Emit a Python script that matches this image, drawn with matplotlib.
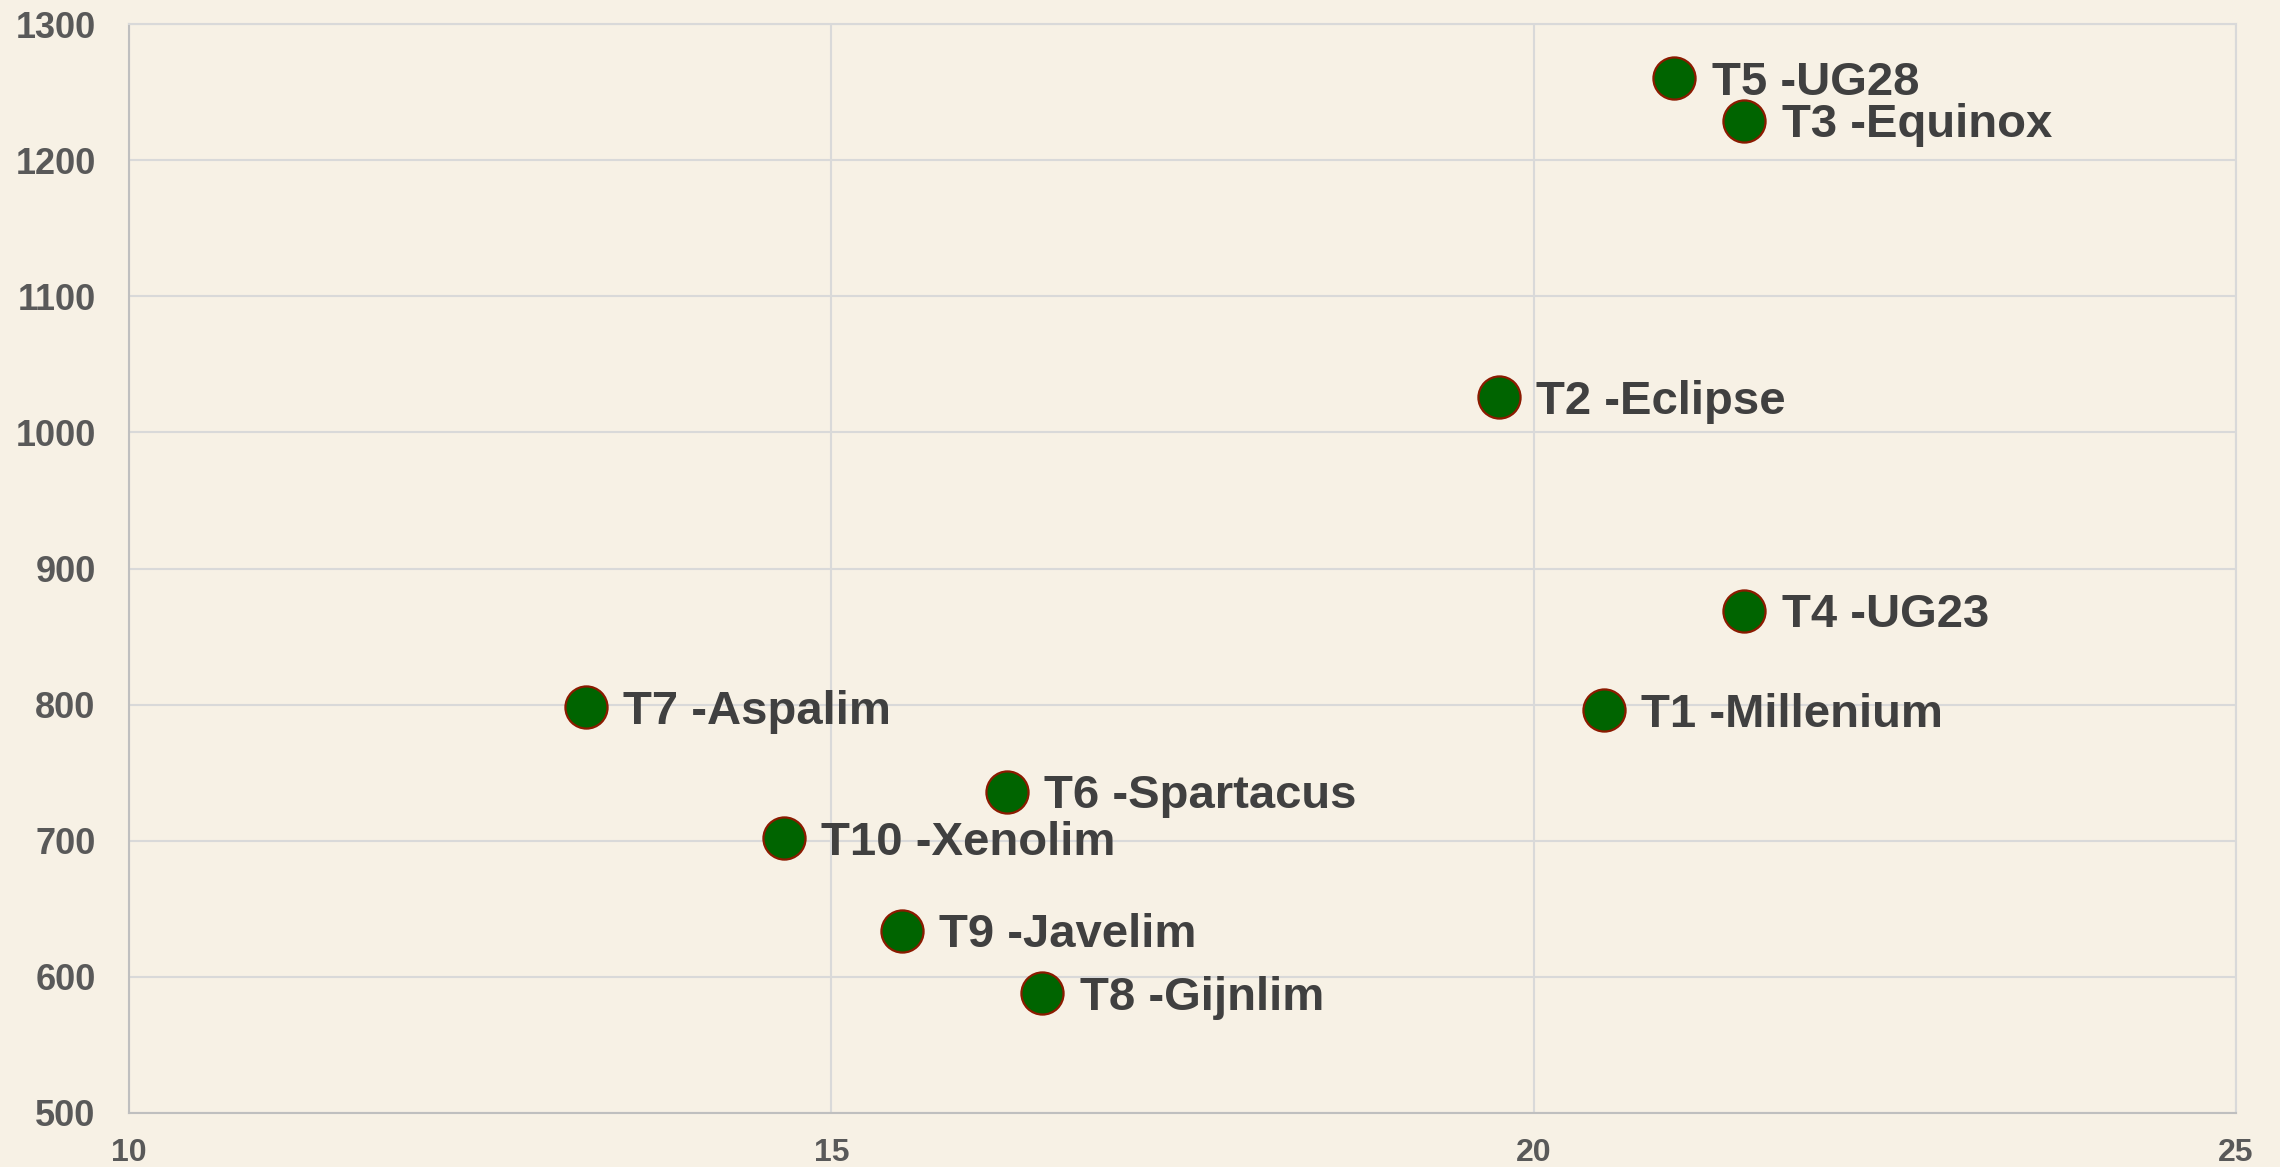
import matplotlib.pyplot as plt

labels = ['T1 -Millenium', 'T2 -Eclipse', 'T3 -Equinox', 'T4 -UG23', 'T5 -UG28',
          'T6 -Spartacus', 'T7 -Aspalim', 'T8 -Gijnlim', 'T9 -Javelim', 'T10 -Xenolim']
x_vals = [20.5, 19.75, 21.5, 21.5, 21.0, 16.25, 13.25, 16.5, 15.5, 14.66]
y_vals = [796, 1026, 1229, 869, 1260, 736, 798, 588, 634, 702]

bg = '#f7f1e5'
grid_color = '#d9d9d9'
text_color = '#404040'
tick_color = '#595959'

plt.rcParams['font.family'] = ['Liberation Sans', 'DejaVu Sans']

fig = plt.figure(figsize=(22.8, 11.67), dpi=100, facecolor=bg)
ax = fig.add_axes([0.0566, 0.0463, 0.9241, 0.9331])
ax.set_facecolor(bg)

ax.scatter(x_vals, y_vals, s=920, c='#006400', edgecolors='#8b1a00',
           linewidths=1.6, zorder=3)

for lbl, x, y in zip(labels, x_vals, y_vals):
    ax.annotate(lbl, (x, y), xytext=(27, -12), textcoords='offset points',
                va='baseline', ha='left', fontsize=34, fontweight='bold',
                color=text_color, zorder=4)

ax.set_xlim(10, 25)
ax.set_ylim(500, 1300)
ax.set_xticks([10, 15, 20, 25])
ax.set_yticks(range(500, 1301, 100))
ax.grid(True, color=grid_color, linewidth=1.5, zorder=0)
ax.set_axisbelow(True)

for side in ['top', 'right']:
    ax.spines[side].set_color(grid_color)
    ax.spines[side].set_linewidth(1.5)
for side in ['left', 'bottom']:
    ax.spines[side].set_color('#bfbfbf')
    ax.spines[side].set_linewidth(1.5)

ax.tick_params(axis='both', length=0)
ax.tick_params(axis='y', pad=24, labelsize=26, labelcolor=tick_color)
ax.tick_params(axis='x', pad=18, labelsize=23, labelcolor=tick_color)
for t in ax.get_xticklabels() + ax.get_yticklabels():
    t.set_fontweight('bold')

fig.savefig('out.png', dpi=100, facecolor=bg)
